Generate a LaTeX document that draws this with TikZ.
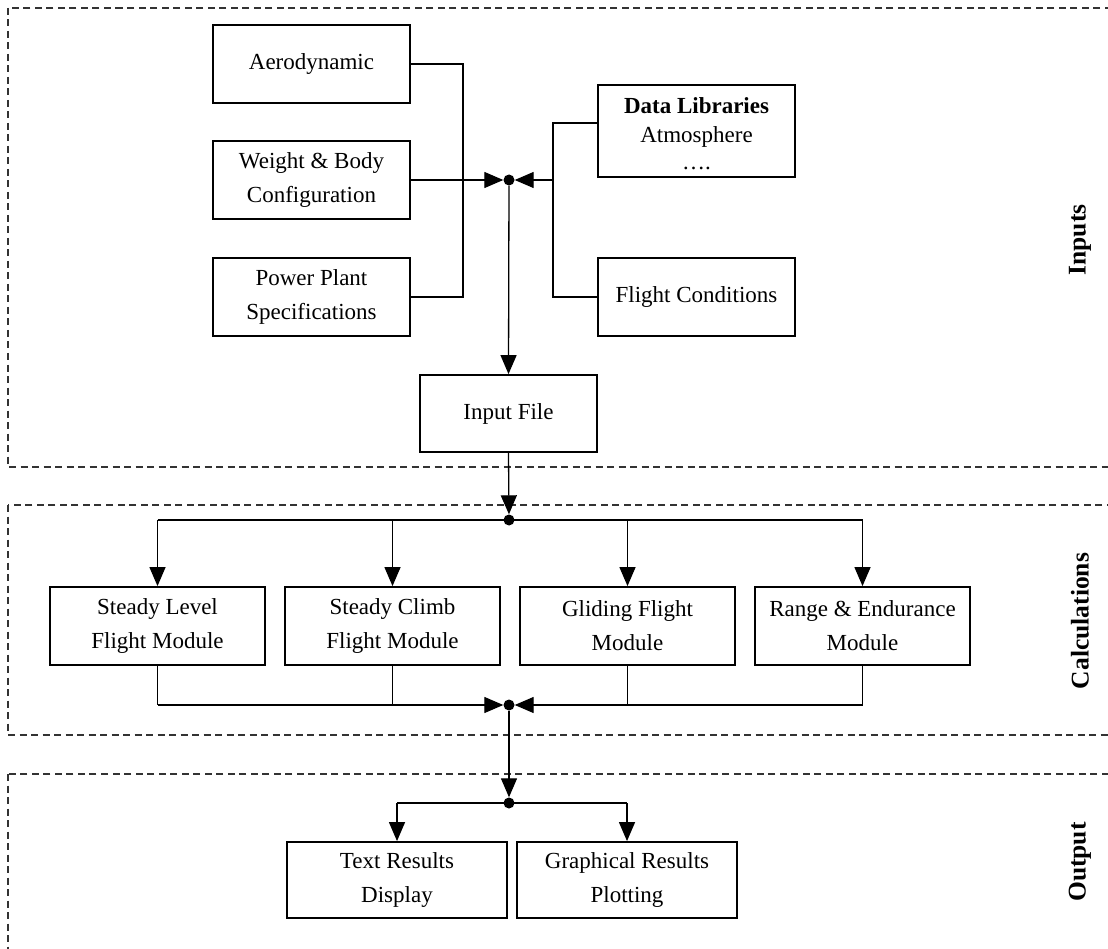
\documentclass[tikz,border=0pt]{standalone}
\usepackage{fontspec}
\setmainfont{Liberation Serif}
\usetikzlibrary{arrows.meta}
\begin{document}
\begin{tikzpicture}[x=1pt,y=-1pt,
  box/.style={draw,line width=1.8pt,align=center,inner sep=0pt,
    font=\fontsize{23}{34}\selectfont},
  inbox/.style={box,minimum width=197pt,minimum height=78pt},
  calcbox/.style={box,minimum width=215pt,minimum height=78pt},
  outbox/.style={box,minimum width=220pt,minimum height=76pt},
  dot/.style={circle,fill=black,inner sep=0pt,minimum size=11pt},
  wire/.style={line width=1.3pt},
  feed/.style={wire,-{Triangle[length=19pt,width=16pt]}},
  frame/.style={line width=1.3pt,draw=black!80,dash pattern=on 7pt off 4.5pt},
  side/.style={rotate=90,font=\fontsize{25.5}{30}\selectfont\bfseries}]
\clip (0,0) rectangle (1108,949);
\fill[white] (0,0) rectangle (1108,949);

% section frames
\draw[frame] (8,8) rectangle (1130,467);
\draw[frame] (8,505) rectangle (1130,735);
\draw[frame] (8,774) rectangle (1130,990);

% section titles
\node[side] (tin) at (1080,240) {Inputs};
\node[side] (tcalc) at (1080,621) {Calculations};
\node[side] (tout) at (1080,862) {Output};

% input boxes
\node[inbox] (aero) at (311.5,64) {Aerodynamic};
\node[inbox] (weight) at (311.5,180) {Weight \& Body\\Configuration};
\node[inbox] (power) at (311.5,297) {Power Plant\\Specifications};
\node[inbox,minimum height=92pt,font=\fontsize{23}{29}\selectfont] (datalib) at (696.5,131)
  {\rule{0pt}{22pt}\textbf{Data Libraries}\\Atmosphere\\[-2pt]….};
\node[inbox] (flight) at (696.5,297) {Flight Conditions};
\node[box,minimum width=177pt,minimum height=77pt] (input) at (508.5,413.5) {Input File};

% calculation modules
\node[calcbox] (c1) at (157.5,626) {Steady Level\\Flight Module};
\node[calcbox] (c2) at (392.5,626) {Steady Climb\\Flight Module};
\node[calcbox] (c3) at (627.5,626) {Gliding Flight\\Module};
\node[calcbox] (c4) at (862.5,626) {Range \& Endurance\\Module};

% output boxes
\node[outbox] (o1) at (397,880) {Text Results\\Display};
\node[outbox] (o2) at (627,880) {Graphical Results\\Plotting};

% junctions
\node[dot] (j1) at (509,180) {};
\node[dot] (j2) at (509,520) {};
\node[dot] (j3) at (509,705) {};
\node[dot] (j4) at (509,803) {};
\coordinate (lbus) at (463,180);
\coordinate (rbus) at (553,180);
\coordinate (dlin) at ([yshift=8pt]datalib.west);

% inputs gathering
\draw[wire] (aero.east) -- (aero.east -| lbus) -- (power.east -| lbus) -- (power.east);
\draw[feed] (weight.east) -- (j1);
\draw[wire] (dlin) -- (dlin -| rbus) -- (flight.west -| rbus) -- (flight.west);
\draw[feed] (rbus) -- (j1);
\draw[feed] (j1) -- (input.north);
\draw[feed] (input.south) -- (j2);

% distribution to modules
\draw[wire] (c1.north |- j2) -- (c4.north |- j2);
\foreach \m in {c1,c2,c3,c4} \draw[feed] (\m.north |- j2) -- (\m.north);

% collection from modules
\draw[wire] (c1.south) -- (c1.south |- j3);
\draw[wire] (c4.south) -- (c4.south |- j3);
\draw[wire] (c2.south) -- (c2.south |- j3);
\draw[wire] (c3.south) -- (c3.south |- j3);
\draw[feed] (c1.south |- j3) -- (j3);
\draw[feed] (c4.south |- j3) -- (j3);
\draw[feed] (j3) -- (j4);

% outputs
\draw[wire] (o1.north |- j4) -- (o2.north |- j4);
\draw[feed] (o1.north |- j4) -- (o1.north);
\draw[feed] (o2.north |- j4) -- (o2.north);
\end{tikzpicture}
\end{document}
